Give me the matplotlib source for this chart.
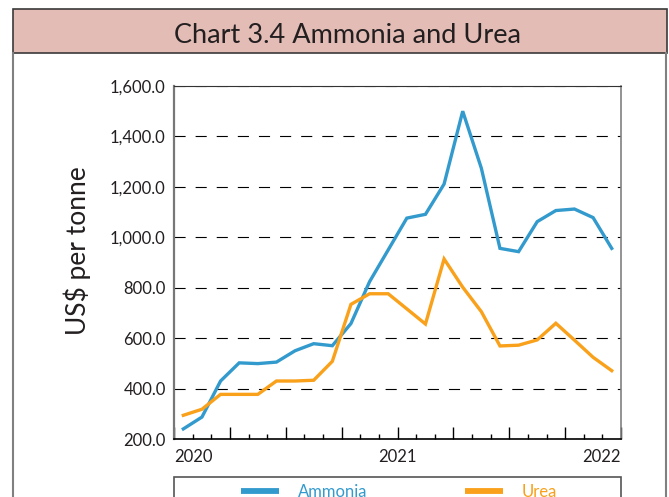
import numpy as np
import matplotlib
matplotlib.use('Agg')
import matplotlib.pyplot as plt
from matplotlib.lines import Line2D
from matplotlib.patches import Rectangle
from matplotlib.ticker import MultipleLocator, FixedLocator, FuncFormatter

# monthly prices, Jan 2020 - Dec 2021 (US$ per tonne)
months = np.arange(24)
ammonia = [240, 287, 430, 502, 499, 505, 550, 578, 570, 658, 824, 950,
           1076, 1091, 1211, 1500, 1274, 956, 943, 1062, 1106, 1112, 1078, 956]
urea = [294, 318, 377, 377, 377, 430, 430, 433, 508, 734, 776, 776,
        716, 656, 914, 802, 705, 569, 572, 593, 659, 592, 524, 471]
year_ticks = [0, 12, 24]
year_labels = ['2020', '2021', '2022']

blue = '#339acd'
orange = '#f9a11b'
ink = '#231f20'

plt.rcParams['font.family'] = ['Lato', 'DejaVu Sans']

fig = plt.figure(figsize=(6.69, 4.97), dpi=100)

# title band and outer frame
fig.add_artist(Rectangle((0.019, 0.894), 0.9785, 0.0879, transform=fig.transFigure,
                         facecolor='#e3bcb5', edgecolor='#3a3a3a', lw=1.2))
fig.add_artist(Line2D([0.019, 0.019], [0, 0.894], transform=fig.transFigure,
                      color='#808080', lw=1.5))
fig.add_artist(Line2D([0.9948, 0.9948], [0, 0.894], transform=fig.transFigure,
                      color='#808080', lw=1.5))
fig.text(0.519, 0.929, 'Chart 3.4 Ammonia and Urea', ha='center', va='center',
         fontsize=19.5, color=ink)

ax = fig.add_axes([0.2601, 0.1167, 0.6682, 0.7103])
ax.plot(months + 0.5, ammonia, color=blue, lw=2.4, solid_joinstyle='miter')
ax.plot(months + 0.5, urea, color=orange, lw=2.4, solid_joinstyle='miter')

ax.set_xlim(0, 24)
ax.set_ylim(200, 1600)
ax.yaxis.set_major_locator(MultipleLocator(200))
ax.yaxis.set_major_formatter(FuncFormatter(lambda v, p: f'{v:,.1f}'))
ax.tick_params(axis='y', length=0, pad=6, labelsize=12, labelcolor=ink)
ax.grid(axis='y', color='black', lw=0.8, linestyle=(0, (10, 9)))

ax.xaxis.set_major_locator(FixedLocator(np.arange(0, 25, 3)))
ax.xaxis.set_minor_locator(MultipleLocator(1))
ax.set_xticks(np.arange(0, 25, 3))
ax.set_xticklabels(['' if t not in year_ticks else year_labels[year_ticks.index(t)]
                    for t in range(0, 25, 3)])
for lab, ha in zip(ax.get_xticklabels(), ['left'] + ['center'] * 7 + ['right']):
    lab.set_ha(ha)
ax.tick_params(axis='x', which='major', direction='in', length=8.5, width=1,
               pad=7, labelsize=12, labelcolor=ink)
ax.tick_params(axis='x', which='minor', direction='in', length=3.4, width=1)

ax.spines['left'].set_color('#777777')
ax.spines['left'].set_linewidth(1.6)
ax.spines['right'].set_color('#808080')
ax.spines['right'].set_linewidth(1.2)
ax.spines['top'].set_color('#333333')
ax.spines['bottom'].set_color('black')
ax.spines['bottom'].set_linewidth(1.2)

fig.text(0.115, 0.495, 'US$ per tonne', rotation=90, ha='center', va='center',
         fontsize=19, color=ink)

# legend box, running off the bottom of the picture
fig.add_artist(Rectangle((0.2601, -0.1), 0.6682, 0.1408, transform=fig.transFigure,
                         facecolor='none', edgecolor='#555555', lw=1.2))
for x0, x1, tx, name, col in [(241, 279, 298, 'Ammonia', blue),
                              (465, 503, 522, 'Urea', orange)]:
    fig.add_artist(Line2D([x0 / 669, x1 / 669], [0.0121, 0.0121],
                          transform=fig.transFigure, color=col, lw=4.2,
                          solid_capstyle='butt'))
    fig.text(tx / 669, 0.0, name, ha='left', va='baseline', fontsize=12, color=col)

fig.savefig('out.png', dpi=100)
